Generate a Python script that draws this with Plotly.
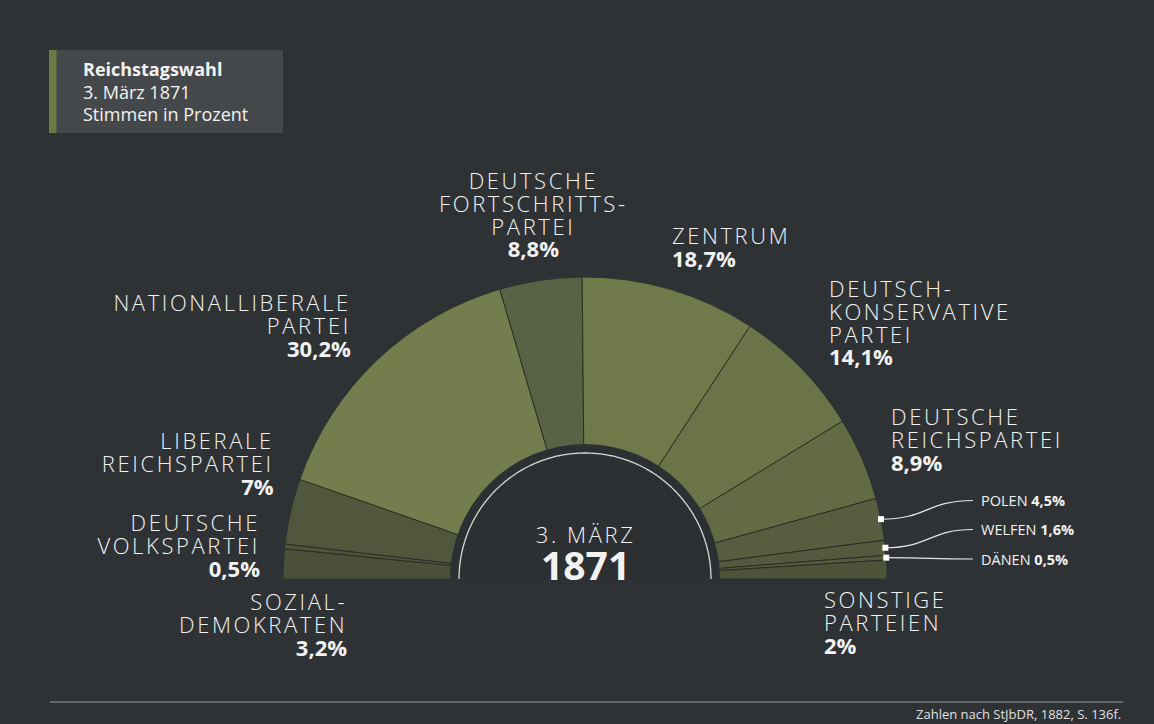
import json
import math
import plotly.graph_objects as go

# ---------------- data ----------------
parties = ["Sozialdemokraten", "Deutsche Volkspartei", "Liberale Reichspartei",
           "Nationalliberale Partei", "Deutsche Fortschrittspartei", "Zentrum",
           "Deutschkonservative Partei", "Deutsche Reichspartei", "Polen",
           "Welfen", "Dänen", "Sonstige Parteien"]
shares = [3.2, 0.5, 7.0, 30.2, 8.8, 18.7, 14.1, 8.9, 4.5, 1.6, 0.5, 2.0]
share_labels = ["3,2%", "0,5%", "7%", "30,2%", "8,8%", "18,7%", "14,1%", "8,9%",
                "4,5%", "1,6%", "0,5%", "2%"]
label_lines = [["SOZIAL-", "DEMOKRATEN"], ["DEUTSCHE", "VOLKSPARTEI"],
               ["LIBERALE", "REICHSPARTEI"], ["NATIONALLIBERALE", "PARTEI"],
               ["DEUTSCHE", "FORTSCHRITTS-", "PARTEI"], ["ZENTRUM"],
               ["DEUTSCH-", "KONSERVATIVE", "PARTEI"], ["DEUTSCHE", "REICHSPARTEI"],
               ["POLEN"], ["WELFEN"], ["DÄNEN"], ["SONSTIGE", "PARTEIEN"]]
title_lines = ["Reichstagswahl", "3. März 1871", "Stimmen in Prozent"]
centre_lines = ["3. MÄRZ", "1871"]
source_note = "Zahlen nach StJbDR, 1882, S. 136f."

# ---------------- style ----------------
W, H = 1154, 724
BG = "#2e3235"
colors = ["#4b5138", "#4f553b", "#50573c", "#737d4d", "#596244", "#6f794a",
          "#6a7448", "#626b44", "#565e3f", "#535a3d", "#555c3e", "#4e5439"]
CX, CY, R = 585, 579, 302          # pixel centre / outer radius of the half donut
R_HOLE, R_ARC = 135, 126
FONT = "Open Sans"
WHITE = "#f2f2f2"
SPACING = 2.6                      # letter spacing of the light capital labels
LABEL_SIZE = 22
PITCH = 22.8


def px(x):
    return x / W


def py(y):
    return 1 - y / H


# angular layout: theta=0 at the left (9 o'clock), clockwise to the right
scale = 180.0 / sum(shares)
widths = [s * scale for s in shares]
centers = []
acc = 0.0
for w in widths:
    centers.append(acc + w / 2)
    acc += w

fig = go.Figure()
fig.add_trace(go.Barpolar(
    r=[1.0] * len(shares), theta=centers, width=widths, base=0,
    marker=dict(color=colors, line=dict(color="rgba(38,42,36,0.85)", width=1)),
    hovertext=parties, hoverinfo="text", showlegend=False))
# dark centre disc
fig.add_trace(go.Barpolar(
    r=[R_HOLE / R], theta=[90], width=[180], base=0,
    marker=dict(color="#2c3033", line=dict(width=0)),
    hoverinfo="skip", showlegend=False))
# thin white arc
arc_t = [i * 0.5 for i in range(361)]
fig.add_trace(go.Scatterpolar(
    r=[R_ARC / R] * len(arc_t), theta=arc_t, mode="lines",
    line=dict(color="#d8d8d8", width=1.3), hoverinfo="skip", showlegend=False))

fig.update_layout(
    width=W, height=H, margin=dict(l=0, r=0, t=0, b=0),
    paper_bgcolor=BG, plot_bgcolor=BG,
    polar=dict(
        domain=dict(x=[px(CX - R), px(CX + R)], y=[py(CY), py(CY - R)]),
        sector=[0, 180], hole=0, bgcolor="rgba(0,0,0,0)",
        radialaxis=dict(visible=False, range=[0, 1]),
        angularaxis=dict(visible=False, direction="clockwise", rotation=180),
    ),
    showlegend=False,
)

annotations = []
shapes = []
pitches = []      # per annotation: line pitch in px (None = plotly default)
spaced_flags = []  # per annotation: letter spacing on non-bold text


def text(x, y, t, size, anchor="left", color=WHITE, weight=None,
         spaced=False, pitch=None, top=False):
    f = dict(family=FONT, size=size, color=color)
    if weight:
        f["weight"] = weight
    if top:
        # y is the cap-centre of the first line; convert to box top
        y = y - (2 + 1.069 * size - 0.357 * size)
    annotations.append(dict(x=px(x), y=py(y), xref="paper", yref="paper",
                            text=t, showarrow=False, xanchor=anchor, align=anchor,
                            yanchor="top" if top else "middle", font=f))
    pitches.append(pitch)
    spaced_flags.append(spaced)


# big labels: (x, first line centre y, anchor)
label_pos = {
    0: (349, 602, "right"), 1: (262, 523, "right"), 2: (276, 441, "right"),
    3: (353, 303, "right"), 4: (533, 181, "center"), 5: (670, 236, "left"),
    6: (827, 289, "left"), 7: (889, 417, "left"), 11: (822, 600, "left"),
}
for i, (x, y0, anc) in label_pos.items():
    body = "<br>".join(label_lines[i] + ["<b>%s</b>" % share_labels[i]])
    text(x, y0, body, LABEL_SIZE, anc, weight=300, spaced=True, pitch=PITCH, top=True)

# small labels with connectors
small = {8: 500.5, 9: 529.5, 10: 559}
for i, ly in small.items():
    ang = math.radians(180 - centers[i])
    sx = CX + R * math.cos(ang)
    sy = CY - R * math.sin(ang)
    ex = 973
    mx = (sx + ex) / 2
    shapes.append(dict(type="path", xref="paper", yref="paper",
                       path="M %f,%f C %f,%f %f,%f %f,%f" % (
                           px(sx), py(sy), px(mx), py(sy), px(mx), py(ly), px(ex), py(ly)),
                       line=dict(color="#e6e6e6", width=1.2)))
    shapes.append(dict(type="rect", xref="paper", yref="paper",
                       x0=px(sx - 3), x1=px(sx + 3), y0=py(sy + 3), y1=py(sy - 3),
                       fillcolor="#ffffff", line=dict(width=0)))
    text(979, ly, "%s <b>%s</b>" % (label_lines[i][0], share_labels[i]), 14.5)

# centre text
text(CX, 535, "%s<br><span style=\"font-size:39px\"><b>%s</b></span>" % tuple(centre_lines),
     22, "center", weight=300, spaced=True, pitch=36.5, top=True)

# title box
shapes.append(dict(type="rect", xref="paper", yref="paper",
                   x0=px(49), x1=px(283), y0=py(133), y1=py(50),
                   fillcolor="#45484b", line=dict(width=0), layer="below"))
shapes.append(dict(type="rect", xref="paper", yref="paper",
                   x0=px(49), x1=px(56.5), y0=py(133), y1=py(50),
                   fillcolor="#6d7943", line=dict(width=0), layer="below"))
text(81, 70, "<b>%s</b><br>%s<br>%s" % tuple(title_lines), 18, pitch=22.5, top=True)

# footer
shapes.append(dict(type="line", xref="paper", yref="paper",
                   x0=px(50), x1=px(1123), y0=py(702), y1=py(702),
                   line=dict(color="#9a9c9e", width=1)))
text(1123, 713.5, source_note, 13, "right", color="#e0e0e0")

fig.update_layout(annotations=annotations, shapes=shapes)

post_js = """
document.body.style.margin = '0';
document.body.style.background = '%s';
var gd = document.getElementById('{plot_id}');
var pitches = %s;
var spaced = %s;
var SP = %s;
gd.querySelectorAll('g.annotation').forEach(function (g) {
    var i = parseInt(g.getAttribute('data-index'), 10);
    var t = g.querySelector('text.annotation-text');
    if (!t || isNaN(i)) { return; }
    if (spaced[i]) {
        t.style.letterSpacing = SP + 'px';
        t.querySelectorAll('tspan').forEach(function (s) {
            var fw = String(s.style.fontWeight);
            if (fw === 'bold' || fw === '700') { s.style.letterSpacing = '0px'; }
        });
    }
    var p = pitches[i];
    if (p) {
        t.querySelectorAll('tspan.line').forEach(function (l, n) {
            l.setAttribute('dy', (n * p) + 'px');
        });
    }
});
""" % (BG, json.dumps(pitches), json.dumps(spaced_flags), SPACING)

fig.write_html("out.html", post_script=post_js, config={"displayModeBar": False})
